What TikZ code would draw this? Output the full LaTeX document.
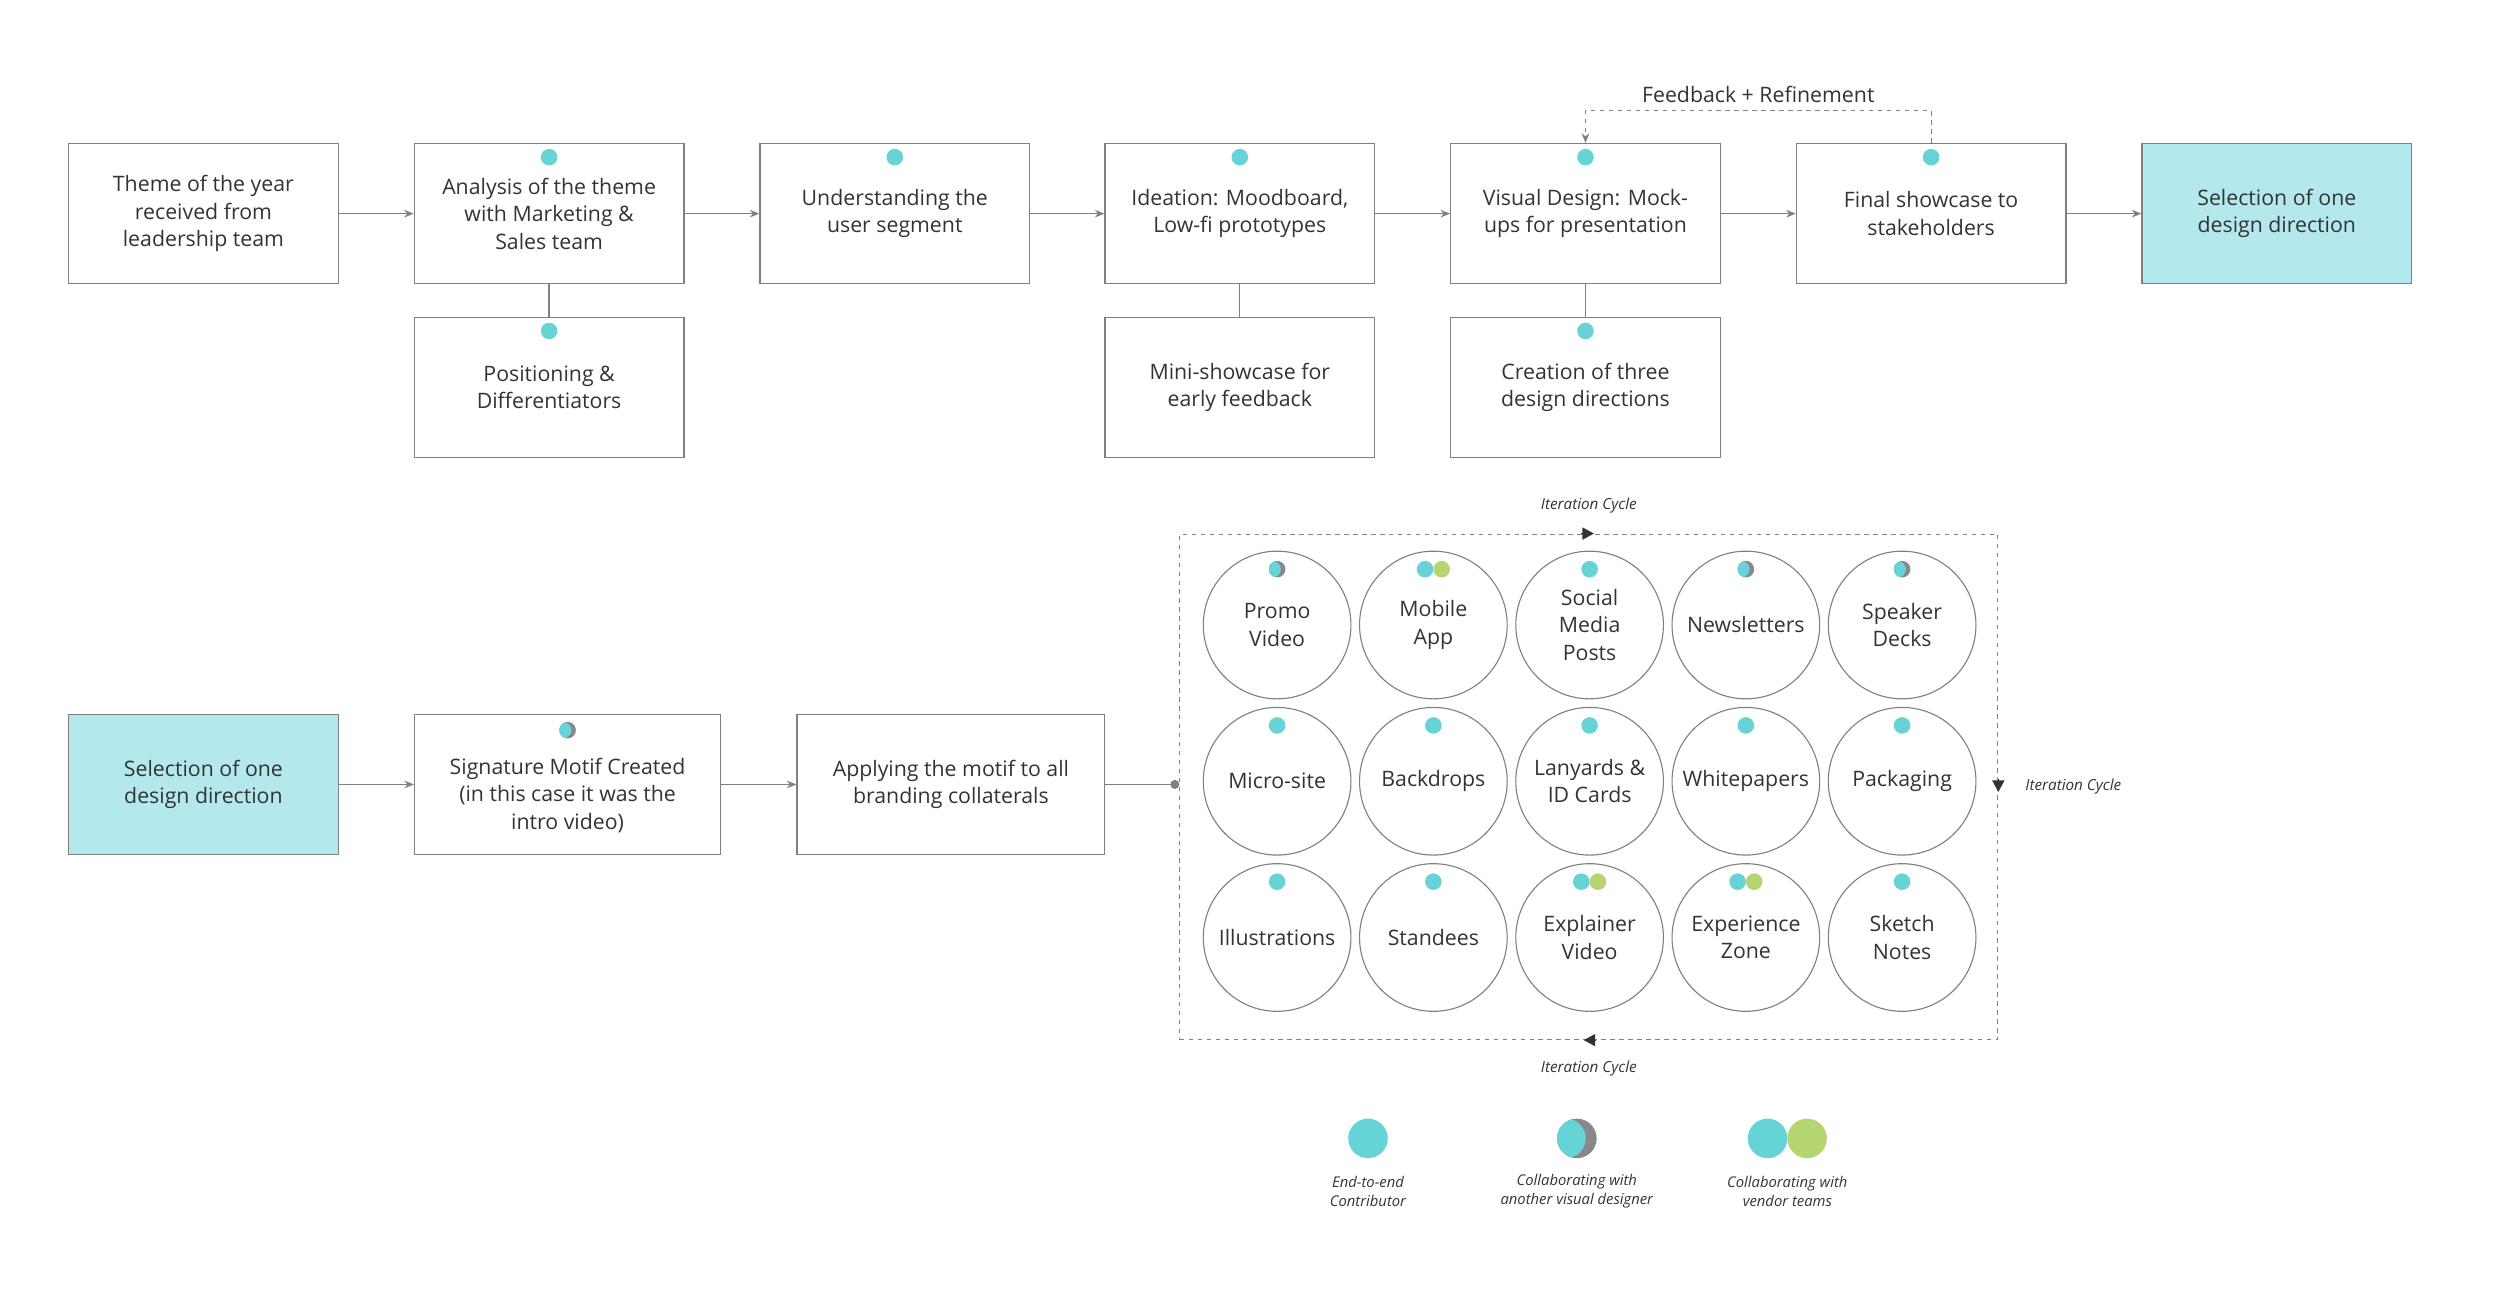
\documentclass[tikz,border=0pt]{standalone}
\usepackage{fontspec}
\setmainfont{Open Sans}
\usetikzlibrary{arrows.meta, calc, positioning}
\definecolor{linegray}{HTML}{808080}
\definecolor{inkgray}{HTML}{333333}
\definecolor{dotcyan}{HTML}{66D3D7}
\definecolor{dotgreen}{HTML}{B6D571}
\definecolor{dotgray}{HTML}{888888}
\definecolor{pickfill}{HTML}{B3E9EC}
\tikzset{
  stepbox/.style={rectangle, draw=linegray, line width=0.6pt,
    minimum width=4.225cm, minimum height=2.2cm,
    font=\fontsize{9.5}{12.2}\selectfont, text=inkgray, align=center},
  pickbox/.style={stepbox, fill=pickfill},
  collateral/.style={circle, draw=linegray, line width=0.5pt,
    minimum size=2.315cm, inner sep=0pt,
    font=\fontsize{9.5}{12.2}\selectfont, text=inkgray, align=center},
  flow/.style={-{Stealth[length=1.5mm, width=1.2mm]}, draw=linegray, line width=0.6pt},
  link/.style={draw=linegray, line width=0.6pt},
  loopline/.style={draw=linegray, line width=0.5pt, dash pattern=on 2pt off 2pt},
  cyclearrow/.style={-{Triangle[length=1.8mm, width=1.9mm]}, draw=inkgray, line width=0.5pt},
  cyclelabel/.style={font=\itshape\fontsize{6.8}{8}\selectfont, text=inkgray},
  legendlabel/.style={font=\itshape\fontsize{6.6}{8.5}\selectfont, text=inkgray, align=center}
}
% contribution markers
\newcommand{\solodot}[2][0.13]{\fill[dotcyan] (#2) circle (#1);}
\newcommand{\halfdot}[2][0.13]{%
  \fill[dotgray] (#2) circle (#1);
  \begin{scope}
    \clip (#2) circle (#1);
    \fill[dotcyan] ($(#2)+(-0.55*#1,0)$) circle (#1);
  \end{scope}}
\newcommand{\duodot}[2][0.13]{%
  \fill[dotcyan] ($(#2)+(-#1,0)$) circle (#1);
  \fill[dotgreen] ($(#2)+(#1,0)$) circle (#1);}

\begin{document}
\begin{tikzpicture}
\useasboundingbox (0,0) rectangle (39.2,-20.35);

%% Upper flow
\node[stepbox] (theme)    at ( 3.19, -3.35) {Theme of the year\\received from\\leadership team};
\node[stepbox] (analysis) at ( 8.61, -3.35) {Analysis of the theme\\with Marketing \&\\Sales team};
\node[stepbox] (segment)  at (14.03, -3.35) {Understanding the\\user segment};
\node[stepbox] (ideation) at (19.44, -3.35) {Ideation: Moodboard,\\Low-fi prototypes};
\node[stepbox] (visual)   at (24.86, -3.35) {Visual Design: Mock-\\ups for presentation};
\node[stepbox] (final)    at (30.28, -3.35) {Final showcase to\\stakeholders};
\node[pickbox] (pick)     at (35.70, -3.35) {Selection of one\\design direction};

%% Side steps
\node[stepbox] (position) at ( 8.61, -6.075) {Positioning \&\\Differentiators};
\node[stepbox] (mini)     at (19.44, -6.075) {Mini-showcase for\\early feedback};
\node[stepbox] (three)    at (24.86, -6.075) {Creation of three\\design directions};

\draw[flow] (theme.east) -- (analysis.west);
\draw[flow] (analysis.east) -- (segment.west);
\draw[flow] (segment.east) -- (ideation.west);
\draw[flow] (ideation.east) -- (visual.west);
\draw[flow] (visual.east) -- (final.west);
\draw[flow] (final.east) -- (pick.west);
\draw[link] (analysis.south) -- (position.north);
\draw[link] (ideation.south) -- (mini.north);
\draw[link] (visual.south) -- (three.north);

%% ── Feedback loop
\draw[loopline, -{Stealth[length=1.5mm, width=1.2mm]}] (final.north) -- ++(0,0.5) -| (visual.north)
  node[pos=0.25, above, font=\fontsize{9.5}{12}\selectfont, text=inkgray] {Feedback + Refinement};

\solodot{$(analysis.north)+(0,-0.225)$}
\solodot{$(segment.north)+(0,-0.225)$}
\solodot{$(ideation.north)+(0,-0.225)$}
\solodot{$(visual.north)+(0,-0.225)$}
\solodot{$(final.north)+(0,-0.225)$}
\solodot{$(position.north)+(0,-0.225)$}
\solodot{$(three.north)+(0,-0.225)$}

%% Lower flow
\node[pickbox]  (pick2) at ( 3.19, -12.3) {Selection of one\\design direction};
\node[stepbox, minimum width=4.8cm]  (motif) at ( 8.90, -12.3) {\rule{0pt}{17pt}Signature Motif Created\\(in this case it was the\\intro video)};
\node[stepbox, minimum width=4.825cm] (apply) at (14.91, -12.3) {Applying the motif to all\\branding collaterals};
\halfdot{$(motif.north)+(0,-0.26)$}

\draw[flow] (pick2.east) -- (motif.west);
\draw[flow] (motif.east) -- (apply.west);

%% ── Collaterals
\node[loopline, rectangle, minimum width=12.825cm, minimum height=7.925cm] (cycle) at (24.9125, -12.3375) {};
\draw[link, -{Circle[length=1.4mm]}] (apply.east) -- (apply.east -| cycle.west);

\node[collateral] (promo)   at (20.025,  -9.8) {Promo\\Video};
\node[collateral] (app)     at (22.475,  -9.8) {Mobile\\App};
\node[collateral] (social)  at (24.925,  -9.8) {Social\\Media\\Posts};
\node[collateral] (news)    at (27.375,  -9.8) {Newsletters};
\node[collateral] (decks)   at (29.825,  -9.8) {Speaker\\Decks};
\node[collateral] (micro)   at (20.025, -12.25) {Micro-site};
\node[collateral] (backdrop) at (22.475, -12.25) {Backdrops};
\node[collateral] (lanyard) at (24.925, -12.25) {Lanyards \&\\ID Cards};
\node[collateral] (white)   at (27.375, -12.25) {Whitepapers};
\node[collateral] (pack)    at (29.825, -12.25) {Packaging};
\node[collateral] (illus)   at (20.025, -14.7) {Illustrations};
\node[collateral] (standee) at (22.475, -14.7) {Standees};
\node[collateral] (explain) at (24.925, -14.7) {Explainer\\Video};
\node[collateral] (zone)    at (27.375, -14.7) {Experience\\Zone};
\node[collateral] (sketch)  at (29.825, -14.7) {Sketch\\Notes};

\halfdot{$(promo)+(0,0.875)$}
\duodot{$(app)+(0,0.875)$}
\solodot{$(social)+(0,0.875)$}
\halfdot{$(news)+(0,0.875)$}
\halfdot{$(decks)+(0,0.875)$}
\solodot{$(micro)+(0,0.875)$}
\solodot{$(backdrop)+(0,0.875)$}
\solodot{$(lanyard)+(0,0.875)$}
\solodot{$(white)+(0,0.875)$}
\solodot{$(pack)+(0,0.875)$}
\solodot{$(illus)+(0,0.875)$}
\solodot{$(standee)+(0,0.875)$}
\duodot{$(explain)+(0,0.875)$}
\duodot{$(zone)+(0,0.875)$}
\solodot{$(sketch)+(0,0.875)$}

%% ── Iteration cycle markers
\draw[cyclearrow] ($(cycle.north)+(-0.12,0)$) -- ($(cycle.north)+(0.08,0)$);
\draw[cyclearrow] ($(cycle.east)+(0,0.12)$) -- ($(cycle.east)+(0,-0.08)$);
\draw[cyclearrow] ($(cycle.south)+(0.12,0)$) -- ($(cycle.south)+(-0.08,0)$);
\node[cyclelabel, above=0.2cm of cycle.north] (itertop) {Iteration Cycle};
\node[cyclelabel, right=0.3cm of cycle.east] (iterright) {Iteration Cycle};
\node[cyclelabel, below=0.2cm of cycle.south] (iterbottom) {Iteration Cycle};

%% Legend
\node[legendlabel] (solokey) at (21.45,  -18.675) {End-to-end\\Contributor};
\node[legendlabel] (halfkey) at (24.725, -18.675) {Collaborating with\\another visual designer};
\node[legendlabel] (duokey)  at (28.025, -18.675) {Collaborating with\\vendor teams};
\solodot[0.31]{21.45,-17.85}
\halfdot[0.31]{24.725,-17.85}
\duodot[0.31]{28.025,-17.85}

\end{tikzpicture}
\end{document}
